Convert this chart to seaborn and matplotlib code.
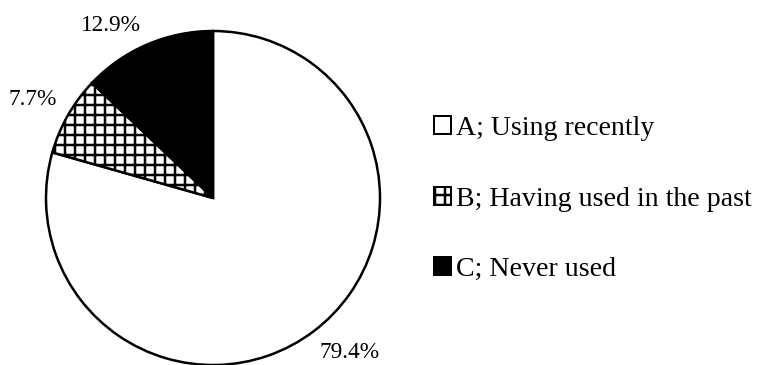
import matplotlib
matplotlib.use("Agg")
import numpy as np
import matplotlib.pyplot as plt
import seaborn as sns
from matplotlib.patches import Patch

# data
categories = ["A; Using recently", "B; Having used in the past", "C; Never used"]
shares = [79.4, 7.7, 12.9]
fills = ["white", "white", "black"]
hatches = ["", "+", ""]

# where the % labels sit (angle in deg, radius in pie radii)
label_angles = [-48.5, 151.4, 120.5]
label_radii = [1.235, 1.23, 1.20]

sns.set_theme(style="white")
plt.rcParams['font.family'] = ['Liberation Serif', 'DejaVu Serif']
plt.rcParams['text.color'] = 'black'
plt.rcParams['hatch.linewidth'] = 3.0
plt.rcParams['hatch.color'] = 'black'

# dpi 60 so a single '+' hatch gives a 10px grid
DPI = 60
fig = plt.figure(figsize=(758 / DPI, 365 / DPI), dpi=DPI)
ax = fig.add_axes([46 / 758, 0, 334 / 758, 334 / 365])

wedges, _, pcts = ax.pie(shares, colors=fills, startangle=90, counterclock=False,
                         autopct="%.1f%%", pctdistance=1.22,
                         wedgeprops=dict(edgecolor="black", linewidth=3),
                         textprops=dict(fontsize=28, color="black"))
for w, h in zip(wedges, hatches):
    w.set_hatch(h)
    w.set_clip_on(False)
for t, a, r in zip(pcts, label_angles, label_radii):
    t.set_position((r * np.cos(np.radians(a)), r * np.sin(np.radians(a))))
    t.set_clip_on(False)
ax.set_xlim(-1, 1)
ax.set_ylim(-1, 1)
ax.axis('off')

handles = [Patch(facecolor=f, edgecolor="black", hatch=h, linewidth=2.4)
           for f, h in zip(fills, hatches)]
fig.legend(handles, categories, loc="center left",
           bbox_to_anchor=(434 / 758, 1 - 199 / 365),
           frameon=False, fontsize=33.5, handlelength=0.6, handleheight=0.6,
           handletextpad=0.2, labelspacing=1.63, borderpad=0, borderaxespad=0,
           labelcolor="black")

fig.savefig("out.png", dpi=DPI)
